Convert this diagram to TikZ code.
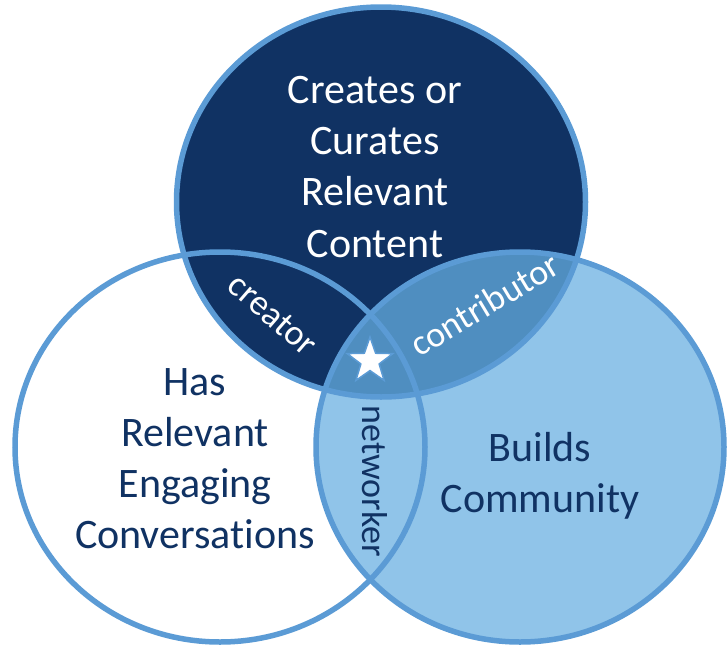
\documentclass[tikz,border=0pt]{standalone}
\usepackage{fontspec}
\setmainfont{Carlito}[Ligatures=NoCommon]
\usetikzlibrary{shapes.geometric}

\definecolor{navy}{RGB}{16,50,99}
\definecolor{ringblue}{RGB}{91,155,213}
\definecolor{lightfill}{RGB}{144,196,233}
\definecolor{midfill}{RGB}{79,142,192}

\begin{document}
\begin{tikzpicture}[x=1pt,y=-1pt,
  ring/.style={draw=ringblue,line width=5.5pt},
  bigtext/.style={font=\fontsize{42}{51}\selectfont,anchor=base,inner sep=0pt},
  roletext/.style={font=\fontsize{36}{43}\selectfont,anchor=base,inner sep=0pt}]
\useasboundingbox (0,0) rectangle (728,648);

% centres of the three sets
\coordinate (ctop)   at (381,202);
\coordinate (cleft)  at (220,447);
\coordinate (cright) at (520,447);

% fills
\fill[white]     (cleft)  ellipse [x radius=205pt,y radius=195pt];
\fill[navy]      (ctop)   ellipse [x radius=204.5pt,y radius=195pt];
\fill[lightfill] (cright) ellipse [x radius=204pt,y radius=195pt];
\begin{scope}
  \clip (ctop) ellipse [x radius=204.5pt,y radius=195pt];
  \fill[midfill] (cright) ellipse [x radius=204pt,y radius=195pt];
\end{scope}

% outlines
\draw[ring] (cleft)  ellipse [x radius=205pt,y radius=195pt];
\draw[ring] (ctop)   ellipse [x radius=204.5pt,y radius=195pt];
\draw[ring] (cright) ellipse [x radius=204pt,y radius=195pt];

% set labels
\node[bigtext,text=white] (t1) at (375,103) {Creates or};
\node[bigtext,text=white] (t2) at (375,154) {Curates};
\node[bigtext,text=white] (t3) at (375,205) {Relevant};
\node[bigtext,text=white] (t4) at (375,257) {Content};

\node[bigtext,text=navy] (l1) at (195,395) {Has};
\node[bigtext,text=navy] (l2) at (195,446) {Relevant};
\node[bigtext,text=navy] (l3) at (195,497) {Engaging};
\node[bigtext,text=navy] (l4) at (195,548) {Conversations};

\node[bigtext,text=navy] (r1) at (540,461) {Builds};
\node[bigtext,text=navy] (r2) at (540,512) {Community};

% overlap labels
\node[roletext,text=white,rotate=-41] (creator) at (265.5,323) {creator};
\node[roletext,text=white,rotate=31] (contrib) at (491,315) {contributor};
\node[roletext,text=navy,rotate=-90] (netw) at (362,481) {networker};

% centre star
\node[star,star points=5,star point ratio=2.5,minimum size=48pt,inner sep=0pt,
      fill=white,draw=ringblue,line width=1.5pt] (star) at (370,361) {};
\end{tikzpicture}
\end{document}
